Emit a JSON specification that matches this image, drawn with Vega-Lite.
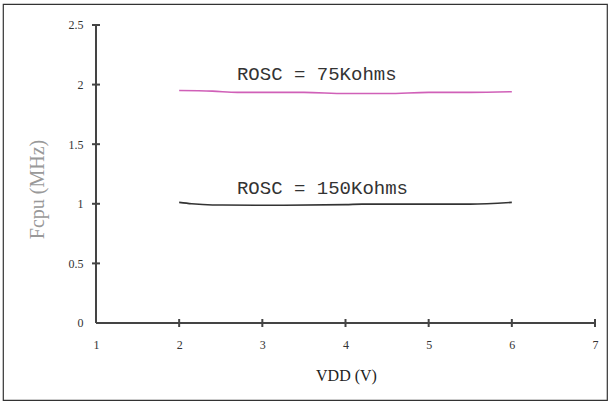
{
  "$schema": "https://vega.github.io/schema/vega-lite/v6.json",
  "autosize": "none",
  "width": 604,
  "height": 396,
  "padding": {"left": 3, "top": 4, "right": 3, "bottom": 4},
  "background": "white",
  "config": {
    "view": {"stroke": "#333", "strokeWidth": 1.2},
    "axis": {"grid": false, "domain": false, "ticks": false}
  },
  "datasets": {
    "curves": [
      {"vdd": 2.0, "f": 1.95, "rosc": "75K"},
      {"vdd": 2.4, "f": 1.945, "rosc": "75K"},
      {"vdd": 2.7, "f": 1.935, "rosc": "75K"},
      {"vdd": 3.5, "f": 1.935, "rosc": "75K"},
      {"vdd": 4.0, "f": 1.925, "rosc": "75K"},
      {"vdd": 4.5, "f": 1.925, "rosc": "75K"},
      {"vdd": 5.0, "f": 1.935, "rosc": "75K"},
      {"vdd": 5.5, "f": 1.935, "rosc": "75K"},
      {"vdd": 6.0, "f": 1.94, "rosc": "75K"},
      {"vdd": 2.0, "f": 1.012, "rosc": "150K"},
      {"vdd": 2.15, "f": 1.0, "rosc": "150K"},
      {"vdd": 2.4, "f": 0.99, "rosc": "150K"},
      {"vdd": 3.0, "f": 0.988, "rosc": "150K"},
      {"vdd": 4.0, "f": 0.993, "rosc": "150K"},
      {"vdd": 4.2, "f": 0.997, "rosc": "150K"},
      {"vdd": 5.5, "f": 0.997, "rosc": "150K"},
      {"vdd": 6.0, "f": 1.012, "rosc": "150K"}
    ],
    "labels": [
      {"vdd": 2.695, "f": 2.09, "label": "ROSC = 75Kohms"},
      {"vdd": 2.695, "f": 1.132, "label": "ROSC = 150Kohms"}
    ],
    "axes": [
      {"x": 1, "x2": 7, "y": 0, "y2": 0},
      {"x": 1, "x2": 1, "y": 0, "y2": 2.5}
    ],
    "xticks": [
      {"x": 2, "y": 0}, {"x": 3, "y": 0}, {"x": 4, "y": 0},
      {"x": 5, "y": 0}, {"x": 6, "y": 0}, {"x": 7, "y": 0}
    ],
    "yticks": [
      {"x": 1, "y": 0.5}, {"x": 1, "y": 1}, {"x": 1, "y": 1.5},
      {"x": 1, "y": 2}, {"x": 1, "y": 2.5}
    ]
  },
  "layer": [
    {
      "data": {"name": "axes"},
      "mark": {"type": "rule", "color": "#444", "strokeWidth": 2},
      "encoding": {
        "x": {"field": "x", "type": "quantitative", "scale": {"domain": [-0.1182, 7.1443], "nice": false, "zero": false}},
        "x2": {"field": "x2"},
        "y": {"field": "y", "type": "quantitative", "scale": {"domain": [-0.646, 2.676], "nice": false, "zero": false}},
        "y2": {"field": "y2"}
      }
    },
    {
      "data": {"name": "xticks"},
      "mark": {"type": "tick", "orient": "vertical", "size": 8, "thickness": 2, "color": "#444", "opacity": 1},
      "encoding": {
        "x": {"field": "x", "type": "quantitative"},
        "y": {"field": "y", "type": "quantitative"}
      }
    },
    {
      "data": {"name": "yticks"},
      "mark": {"type": "tick", "orient": "horizontal", "size": 8, "thickness": 2, "color": "#444", "opacity": 1},
      "encoding": {
        "x": {"field": "x", "type": "quantitative"},
        "y": {"field": "y", "type": "quantitative"}
      }
    },
    {
      "data": {"name": "curves"},
      "mark": {"type": "line", "strokeWidth": 1.6, "interpolate": "monotone"},
      "encoding": {
        "x": {
          "field": "vdd", "type": "quantitative",
          "axis": {
            "orient": "bottom", "offset": -77, "values": [1, 2, 3, 4, 5, 6, 7], "format": "d",
            "labelFont": "Liberation Serif", "labelFontSize": 12, "labelColor": "#333", "labelPadding": 16,
            "title": "VDD (V)", "titleFont": "Liberation Serif", "titleFontSize": 16, "titleFontWeight": "normal",
            "titleColor": "#222", "titleX": 343, "titlePadding": 17
          }
        },
        "y": {
          "field": "f", "type": "quantitative",
          "axis": {
            "orient": "left", "offset": -93, "values": [0, 0.5, 1, 1.5, 2, 2.5],
            "format": "~g",
            "labelFont": "Liberation Serif", "labelFontSize": 12, "labelColor": "#333", "labelPadding": 13,
            "title": "Fcpu (MHz)", "titleFont": "Liberation Serif", "titleFontSize": 20, "titleFontWeight": "normal",
            "titleColor": "#999", "titleY": 185, "titlePadding": 21
          }
        },
        "color": {
          "field": "rosc", "type": "nominal",
          "scale": {"domain": ["75K", "150K"], "range": ["#d060b8", "#333333"]},
          "legend": null
        }
      }
    },
    {
      "data": {"name": "labels"},
      "mark": {"type": "text", "align": "left", "baseline": "middle", "font": "Liberation Mono", "fontSize": 19, "color": "#333"},
      "encoding": {
        "x": {"field": "vdd", "type": "quantitative"},
        "y": {"field": "f", "type": "quantitative"},
        "text": {"field": "label"}
      }
    }
  ]
}
